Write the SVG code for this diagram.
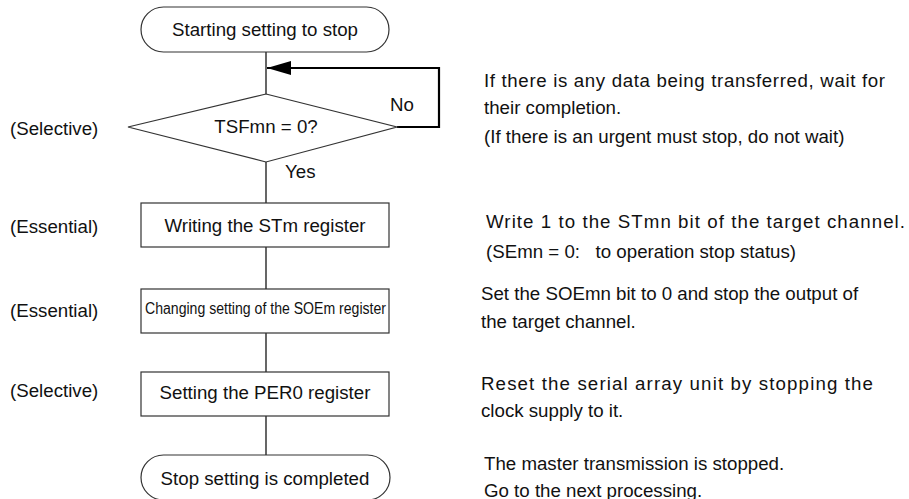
<svg xmlns="http://www.w3.org/2000/svg" width="909" height="499" viewBox="0 0 909 499">
<style>
text{font-family:"Liberation Sans",Arial,sans-serif;font-size:18.7px;fill:#111}
.c{text-anchor:middle}
.shape{fill:#fff;stroke:#333;stroke-width:1.2}
.ln{stroke:#000;stroke-width:1.2;fill:none}
.loop{stroke:#000;stroke-width:2.2;fill:none}
</style>
<defs>
<marker id="ah" markerWidth="24" markerHeight="14" refX="24" refY="7" orient="auto" markerUnits="userSpaceOnUse">
<path d="M0,0 L24,7 L0,14 Z" fill="#000"/>
</marker>
</defs>
<rect width="909" height="499" fill="#fff"/>
<g id="connectors">
<line class="ln" x1="266" y1="52" x2="266" y2="94"/>
<line class="ln" x1="266" y1="162" x2="266" y2="203"/>
<line class="ln" x1="266" y1="247" x2="266" y2="289"/>
<line class="ln" x1="266" y1="333" x2="266" y2="372"/>
<line class="ln" x1="266" y1="416" x2="266" y2="455"/>
<path class="loop" d="M397,127 H439 V68 H267" marker-end="url(#ah)"/>
<text x="390" y="111">No</text>
<text x="285" y="178">Yes</text>
</g>
<g id="start">
<rect class="shape" x="141" y="7" width="248" height="45" rx="22.5"/>
<text class="c" x="265" y="36">Starting setting to stop</text>
</g>
<g id="decision">
<polygon class="shape" points="266,94 397,127 266,162 128,127"/>
<text class="c" x="266" y="133">TSFmn = 0?</text>
</g>
<g id="box1">
<rect class="shape" x="141" y="203" width="248" height="44"/>
<text class="c" x="265" y="232">Writing the STm register</text>
</g>
<g id="box2">
<rect class="shape" x="141" y="289" width="248" height="44"/>
<text x="145" y="314" font-size="16" textLength="241" lengthAdjust="spacingAndGlyphs" style="font-size:16px">Changing setting of the SOEm register</text>
</g>
<g id="box3">
<rect class="shape" x="141" y="372" width="248" height="44"/>
<text class="c" x="265" y="399">Setting the PER0 register</text>
</g>
<g id="end">
<rect class="shape" x="141" y="455" width="249" height="45" rx="22.5"/>
<text class="c" x="265" y="485">Stop setting is completed</text>
</g>
<g id="labels">
<text x="10" y="135">(Selective)</text>
<text x="10" y="233">(Essential)</text>
<text x="10" y="317">(Essential)</text>
<text x="10" y="397">(Selective)</text>
</g>
<g id="notes">
<text x="484" y="87" textLength="401" lengthAdjust="spacing">If there is any data being transferred, wait for</text>
<text x="484" y="114">their completion.</text>
<text x="484" y="143">(If there is an urgent must stop, do not wait)</text>
<text x="486" y="228" textLength="419" lengthAdjust="spacing">Write 1 to the STmn bit of the target channel.</text>
<text x="486" y="258" xml:space="preserve">(SEmn = 0:   to operation stop status)</text>
<text x="481" y="300">Set the SOEmn bit to 0 and stop the output of</text>
<text x="481" y="328">the target channel.</text>
<text x="481" y="390" textLength="392" lengthAdjust="spacing">Reset the serial array unit by stopping the</text>
<text x="481" y="417">clock supply to it.</text>
<text x="484" y="470">The master transmission is stopped.</text>
<text x="484" y="497">Go to the next processing.</text>
</g>
</svg>
